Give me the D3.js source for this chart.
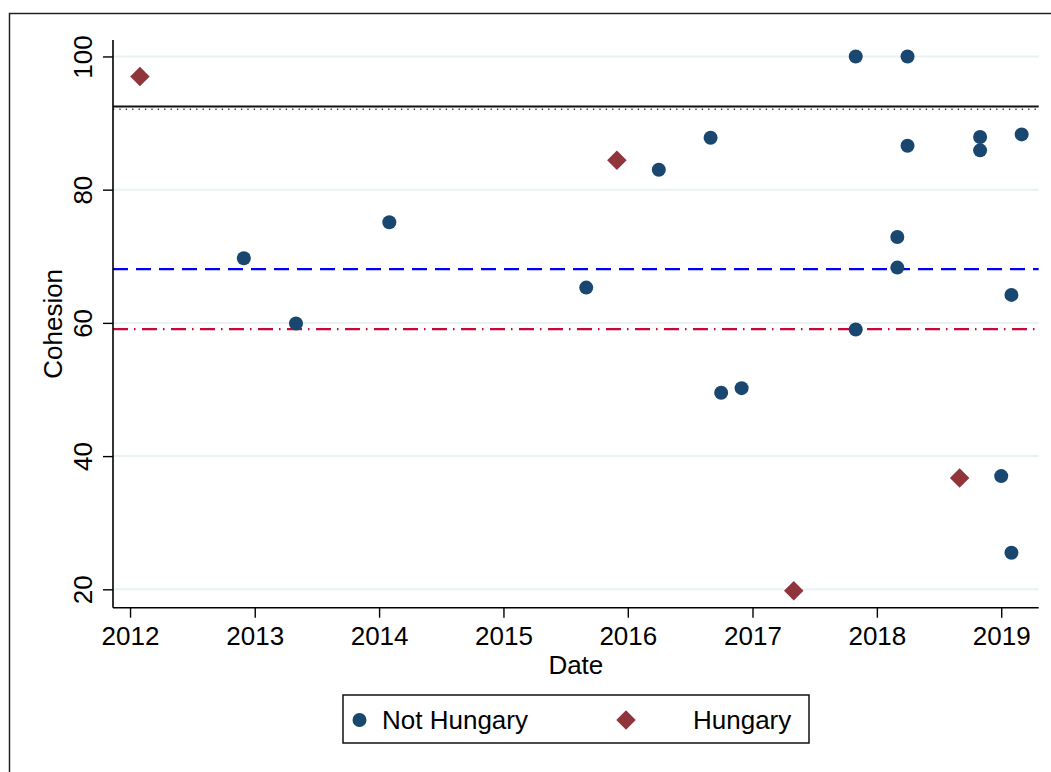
<!DOCTYPE html>
<html lang="en">
  <head>
    <meta charset="UTF-8" />
    <title>Cohesion</title>
    <script src="https://d3js.org/d3.v7.min.js"></script>
    <style>
      body { margin: 0; background: #fff; }
      text { font-family: "Liberation Sans", Arial, sans-serif; fill: #000; }
    </style>
  </head>
  <body>
    <script>
      // data
      var notHungaryDates = [
        "2012-11-30", "2013-05-02", "2014-01-31", "2015-09-01", "2016-04-01",
        "2016-08-31", "2016-10-01", "2016-11-30", "2017-10-31", "2018-04-01",
        "2018-04-01", "2018-03-02", "2018-03-02", "2017-10-31", "2018-10-31",
        "2018-10-31", "2019-03-02", "2019-01-31", "2019-01-01", "2019-01-31"
      ];
      var notHungaryValues = [
        69.7, 59.9, 75.1, 65.3, 83.0,
        87.8, 49.5, 50.2, 100, 100,
        86.6, 72.9, 68.3, 59.0, 87.9,
        85.9, 88.3, 64.2, 37.0, 25.5
      ];
      var hungaryDates = ["2012-01-30", "2015-11-30", "2017-05-02", "2018-09-01"];
      var hungaryValues = [97.0, 84.4, 19.8, 36.7];

      // horizontal reference lines
      var refSolid = 92.47;
      var refDotted = 92.08;
      var refBlue = 68.07;
      var refRed = 59.07;

      var yTicks = [20, 40, 60, 80, 100];
      var xTickYears = [2012, 2013, 2014, 2015, 2016, 2017, 2018, 2019];

      var W = 1051, H = 772;
      // plot area (window.top is taken, so prefixed names)
      var pLeft = 113, pRight = 1038.7, pTop = 40, pBottom = 607.7;
      var parse = d3.timeParse("%Y-%m-%d");

      var svg = d3.select("body").append("svg")
        .attr("width", W).attr("height", H);

      // outer frame (only top and left show)
      svg.append("rect")
        .attr("x", 9.5).attr("y", 13.5)
        .attr("width", 1100).attr("height", 800)
        .attr("fill", "none").attr("stroke", "#222").attr("stroke-width", 1.5);

      var x = d3.scaleTime()
        .domain([parse("2011-11-12"), parse("2019-04-21")])
        .range([pLeft, pRight]);
      var y = d3.scaleLinear()
        .domain([17.24, 102.47])
        .range([pBottom, pTop]);

      // grid lines
      svg.append("g").selectAll("line")
        .data(yTicks).enter().append("line")
        .attr("x1", pLeft).attr("x2", pRight)
        .attr("y1", d => y(d)).attr("y2", d => y(d))
        .attr("stroke", "#eaf1f3").attr("stroke-width", 2);

      // reference lines
      function hline(v, color, width, dash) {
        svg.append("line")
          .attr("x1", pLeft).attr("x2", pRight)
          .attr("y1", y(v)).attr("y2", y(v))
          .attr("stroke", color).attr("stroke-width", width)
          .attr("stroke-dasharray", dash);
      }
      hline(refSolid, "#111", 2, null);
      hline(refDotted, "#222", 1.6, "1.2,5.2");
      hline(refBlue, "#0000ff", 2.2, "15,8");
      hline(refRed, "#c8083a", 2.2, "15,6,1.5,6.5");

      // axes
      var yAxis = d3.axisLeft(y).tickValues(yTicks).tickSize(10).tickPadding(0).tickFormat(d3.format("d"));
      var gy = svg.append("g").attr("transform", "translate(" + pLeft + ",0)").call(yAxis);
      gy.select(".domain").attr("d", "M0," + pTop + "V" + pBottom).attr("stroke", "#000").attr("stroke-width", 1.6);
      gy.selectAll(".tick line").attr("stroke", "#000").attr("stroke-width", 1.4);
      gy.selectAll(".tick text")
        .attr("x", null).attr("dy", null)
        .attr("transform", "translate(-21,0) rotate(-90)")
        .attr("text-anchor", "middle")
        .style("font-size", "26px");

      var xAxis = d3.axisBottom(x)
        .tickValues(xTickYears.map(function (yr) { return new Date(yr, 0, 1); }))
        .tickSize(10).tickFormat(d3.timeFormat("%Y"));
      var gx = svg.append("g").attr("transform", "translate(0," + pBottom + ")").call(xAxis);
      gx.select(".domain").attr("d", "M" + pLeft + ",0H" + pRight).attr("stroke", "#000").attr("stroke-width", 1.6);
      gx.selectAll(".tick line").attr("stroke", "#000").attr("stroke-width", 1.4);
      gx.selectAll(".tick text")
        .attr("y", 37.3).attr("dy", null)
        .style("font-size", "26px");
      gy.attr("font-family", null).attr("font-size", null);
      gx.attr("font-family", null).attr("font-size", null);

      // axis titles
      svg.append("text")
        .attr("x", (pLeft + pRight) / 2).attr("y", 674)
        .attr("text-anchor", "middle").style("font-size", "26px")
        .text("Date");
      svg.append("text")
        .attr("transform", "translate(62," + (pTop + pBottom) / 2 + ") rotate(-90)")
        .attr("text-anchor", "middle").style("font-size", "26px")
        .text("Cohesion");

      var navy = "#1a476f", maroon = "#90353b";
      var diamond = d3.symbol().type(d3.symbolSquare).size(190);

      // points
      svg.append("g").selectAll("circle")
        .data(notHungaryDates).enter().append("circle")
        .attr("cx", d => x(parse(d)))
        .attr("cy", (d, i) => y(notHungaryValues[i]))
        .attr("r", 7).attr("fill", navy);

      svg.append("g").selectAll("path")
        .data(hungaryDates).enter().append("path")
        .attr("d", diamond)
        .attr("transform", (d, i) => "translate(" + x(parse(d)) + "," + y(hungaryValues[i]) + ") rotate(45)")
        .attr("fill", maroon);

      // legend
      var lg = svg.append("g");
      lg.append("rect")
        .attr("x", 343).attr("y", 695).attr("width", 466).attr("height", 48)
        .attr("fill", "#fff").attr("stroke", "#111").attr("stroke-width", 1.5);
      lg.append("circle").attr("cx", 359.5).attr("cy", 720).attr("r", 7).attr("fill", navy);
      lg.append("text").attr("x", 382).attr("y", 729).style("font-size", "26px").text("Not Hungary");
      lg.append("path").attr("d", diamond)
        .attr("transform", "translate(626,720) rotate(45)").attr("fill", maroon);
      lg.append("text").attr("x", 693).attr("y", 729).style("font-size", "26px").text("Hungary");
    </script>
  </body>
</html>
